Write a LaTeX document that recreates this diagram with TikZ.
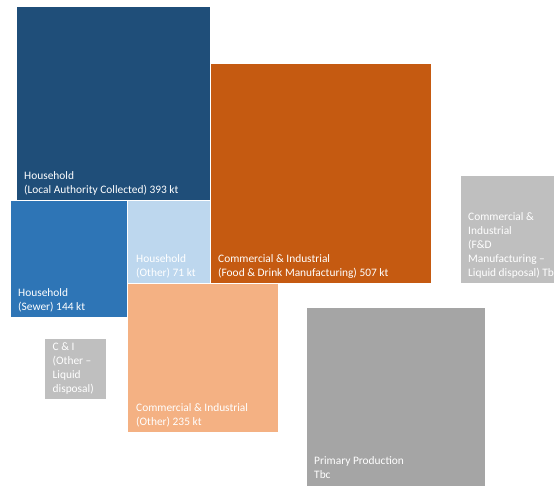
\documentclass[tikz,border=0pt]{standalone}
\usepackage{fontspec}
\setmainfont{Carlito}
\definecolor{navy}{HTML}{1F4E79}
\definecolor{burnt}{HTML}{C55A11}
\definecolor{midblue}{HTML}{2E75B6}
\definecolor{paleblue}{HTML}{BDD7EE}
\definecolor{peach}{HTML}{F4B183}
\definecolor{lightgrey}{HTML}{BFBFBF}
\definecolor{midgrey}{HTML}{A5A5A5}
\begin{document}
\begin{tikzpicture}[x=1pt,y=-1pt,
  box/.style={draw=white,line width=0.4pt},
  lbl/.style={text=white,inner sep=0pt,anchor=base west,align=left,
    font=\fontsize{11.4}{14}\selectfont}]
\useasboundingbox (0,0) rectangle (554,485);
\clip (0,0) rectangle (554,485);
% boxes
\fill[navy,box] (16,6) rectangle (210,200);
\fill[burnt,box] (210,63) rectangle (431,283);
\fill[midblue,box] (10,200) rectangle (127,317);
\fill[paleblue,box] (127,200) rectangle (210,283);
\fill[peach,box] (127,283) rectangle (278,432);
\fill[lightgrey,box] (44,338) rectangle (106.5,399);
\fill[lightgrey,box] (460,175) rectangle (562,283);
\fill[midgrey,box] (306,307) rectangle (485,486);
% labels (anchored at the baseline of the last line)
\node[lbl] (hlac) at (24,193) {Household\\(Local Authority Collected) 393 kt};
\node[lbl] (cifd) at (218,276) {Commercial \& Industrial\\(Food \& Drink Manufacturing) 507 kt};
\node[lbl] (hsew) at (18,310.5) {Household\\(Sewer) 144 kt};
\node[lbl] (hoth) at (136,276) {Household\\(Other) 71 kt};
\node[lbl] (cioth) at (136,425.5) {Commercial \& Industrial\\(Other) 235 kt};
\node[lbl] (ciliq) at (52.5,392) {C \& I\\(Other --\\Liquid\\disposal)};
\node[lbl] (fdliq) at (468,276.5) {Commercial \&\\Industrial\\(F\&D\\Manufacturing --\\Liquid disposal) Tbc};
\node[lbl] (prim) at (314,478.5) {Primary Production\\Tbc};
\end{tikzpicture}
\end{document}
